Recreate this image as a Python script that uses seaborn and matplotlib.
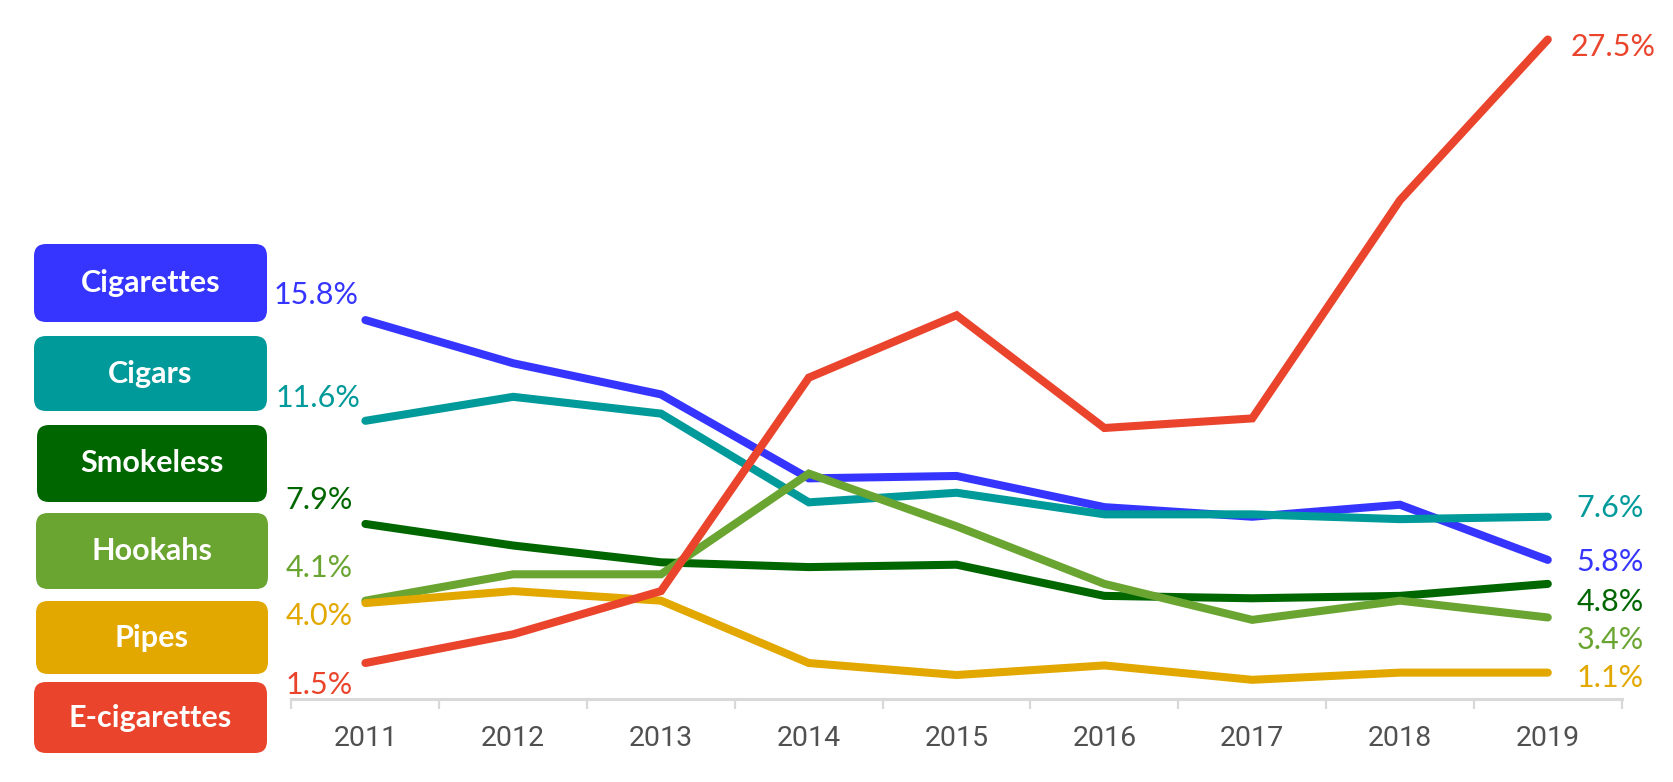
import matplotlib
matplotlib.use("Agg")
import matplotlib.pyplot as plt
from matplotlib import font_manager as fm
from matplotlib.patches import FancyBboxPatch
import seaborn as sns
import pandas as pd

# ---------------- data ----------------
years = [2011, 2012, 2013, 2014, 2015, 2016, 2017, 2018, 2019]
products = ["Cigarettes", "Cigars", "Smokeless", "Hookahs", "Pipes", "E-cigarettes"]
cigarettes = [15.8, 14.0, 12.7, 9.2, 9.3, 8.0, 7.6, 8.1, 5.8]
cigars = [11.6, 12.6, 11.9, 8.2, 8.6, 7.7, 7.7, 7.5, 7.6]
smokeless = [7.3, 6.4, 5.7, 5.5, 5.6, 4.3, 4.2, 4.3, 4.8]
hookahs = [4.1, 5.2, 5.2, 9.4, 7.2, 4.8, 3.3, 4.1, 3.4]
pipes = [4.0, 4.5, 4.1, 1.5, 1.0, 1.4, 0.8, 1.1, 1.1]
ecigs = [1.5, 2.7, 4.5, 13.4, 16.0, 11.3, 11.7, 20.8, 27.5]
series = [cigarettes, cigars, smokeless, hookahs, pipes, ecigs]
start_labels = ["15.8%", "11.6%", "7.9%", "4.1%", "4.0%", "1.5%"]
end_labels = ["5.8%", "7.6%", "4.8%", "3.4%", "1.1%", "27.5%"]

# ---------------- style ----------------
colors = ["#3535ff", "#009a9a", "#006600", "#6aa431", "#e2a800", "#ea442c"]
# label offsets in pixels (dx, dy) for start / end labels
start_off = [(-7, 25), (-5, 23), (-13, 24), (-13, 33), (-13, -13), (-13, -22)]
end_off = [(29, -2), (29, 9), (29, -18), (29, -23), (29, -5), (23, -8)]
# legend boxes in pixel coords (x0, y0, x1, y1), y from top
boxes = [(34, 244, 267, 322), (34, 336, 267, 411), (37, 425, 267, 502),
         (36, 513, 268, 589), (36, 601, 268, 674), (34, 682, 267, 753)]

sns.set_theme(style="white")
plt.rcParams["font.family"] = ["Lato", "DejaVu Sans"]
names = {f.name for f in fm.fontManager.ttflist}
tick_font = "Liberation Sans Narrow" if "Liberation Sans Narrow" in names else "Roboto"
tick_size = 23 if tick_font == "Liberation Sans Narrow" else 20.5

df = pd.DataFrame({
    "year": years * len(products),
    "value": [v for s in series for v in s],
    "product": [p for p in products for _ in years],
})

W, H = 1674, 782
fig = plt.figure(figsize=(W / 100, H / 100), dpi=100)
ax = fig.add_axes([291.5 / W, 1 - 699 / H, (1621.7 - 291.5) / W, (699 - 27.5) / H])

sns.lineplot(data=df, x="year", y="value", hue="product", hue_order=products,
             palette=dict(zip(products, colors)), linewidth=5.8, legend=False, ax=ax)
for ln in ax.lines:
    ln.set_solid_capstyle("round")
    ln.set_solid_joinstyle("miter")

ax.set_xlim(2010.5, 2019.5)
ax.set_ylim(0, 28)
for s in ["top", "right", "left"]:
    ax.spines[s].set_visible(False)
ax.spines["bottom"].set_color("#d9d9d9")
ax.spines["bottom"].set_linewidth(2.2)
ax.set_yticks([])
ax.set_xticks(years)
ax.set_xticklabels([str(y) for y in years], fontsize=tick_size, color="#505050", family=tick_font)
ax.set_xticks([y - 0.5 for y in years] + [years[-1] + 0.5], minor=True)
ax.tick_params(axis="x", which="major", length=0, pad=19)
ax.tick_params(axis="x", which="minor", length=7, width=1.6, color="#d9d9d9", direction="out", bottom=True)
ax.set_xlabel("")
ax.set_ylabel("")

for s, c, so, eo, sl, el in zip(series, colors, start_off, end_off, start_labels, end_labels):
    ax.annotate(sl, (years[0], s[0]), xytext=so, textcoords="offset pixels",
                ha="right", va="center", fontsize=22, color=c)
    ax.annotate(el, (years[-1], s[-1]), xytext=eo, textcoords="offset pixels",
                ha="left", va="center", fontsize=22, color=c)

# legend boxes
ov = fig.add_axes([0, 0, 1, 1], zorder=-1)
ov.set_xlim(0, W)
ov.set_ylim(H, 0)
ov.axis("off")
for p, c, (x0, y0, x1, y1) in zip(products, colors, boxes):
    ov.add_patch(FancyBboxPatch((x0, y0), x1 - x0, y1 - y0,
                                boxstyle="round,pad=0,rounding_size=12",
                                facecolor=c, edgecolor="none"))
    ov.text((x0 + x1) / 2, (y0 + y1) / 2, p, ha="center", va="center",
            color="white", fontsize=22, fontweight="bold")

fig.savefig("out.png", dpi=100)
